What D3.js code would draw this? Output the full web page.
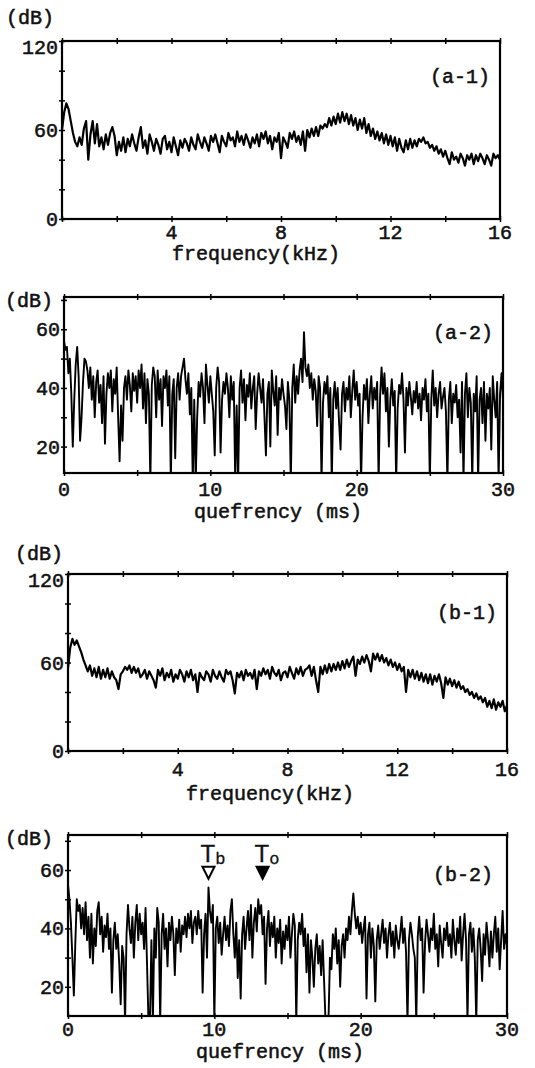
<!DOCTYPE html>
<html>
<head>
<meta charset="utf-8">
<script src="https://cdn.jsdelivr.net/npm/d3@7"></script>
<style>
  body { margin: 0; background: #fff; }
  text { font-family: "Liberation Mono", "DejaVu Sans Mono", monospace; font-size: 20px; fill: #111; stroke: #111; stroke-width: 0.55px; }
</style>
</head>
<body>
<div id="chart"></div>
<script>
// (a-1) spectrum, dB, evenly spaced from 0 to 16 kHz
var spectrumA = [
  60, 72, 78, 74, 66, 58, 52, 49, 55, 50,
  61, 66, 40, 57, 66, 51, 64, 49, 55, 47,
  57, 50, 58, 62, 56, 43, 52, 46, 55, 45,
  54, 49, 57, 51, 46, 55, 62, 48, 53, 44,
  57, 52, 46, 54, 50, 44, 54, 56, 47, 52,
  45, 55, 49, 43, 53, 48, 54, 51, 46, 55,
  50, 47, 57, 52, 48, 55, 51, 46, 56, 52,
  57, 51, 45, 56, 52, 49, 58, 53, 55, 49,
  59, 52, 56, 50, 57, 53, 48, 55, 51, 57,
  49, 58, 54, 59, 51, 56, 47, 55, 52, 58,
  41, 55, 52, 48, 58, 54, 59, 52, 56, 50,
  59, 46, 60, 55, 61, 56, 62, 56, 63, 61,
  64, 62, 68, 63, 69, 64, 71, 65, 72, 66,
  71, 64, 70, 63, 68, 60, 67, 61, 68, 58,
  64, 56, 61, 54, 59, 53, 58, 51, 57, 50,
  56, 49, 55, 46, 54, 48, 45, 53, 47, 54,
  48, 53, 49, 54, 52, 55, 51, 52, 48, 50,
  46, 49, 44, 47, 42, 46, 41, 37, 45, 40,
  42, 38, 44, 41, 36, 43, 40, 44, 37, 43,
  39, 44, 41, 37, 43, 40, 36, 44, 41, 43,
  40
];

// (a-2) cepstrum, dB, evenly spaced from 0 to 30 ms
var cepstrumA = [
  56, 53, 54, 45, 50, 38, 20, 36, 48, 54,
  44, 22, 30, 42, 50, 49, 46, 40, 47, 36,
  44, 30, 42, 46, 35, 41, 28, 44, 21, 38,
  45, 40, 46, 32, 43, 38, 47, 30, 15, 34,
  22, 40, 44, 36, 46, 41, 32, 45, 39, 44,
  35, 46, 40, 48, 33, 45, 28, 43, 38, 8,
  41, 47, 44, 30, 46, 36, 43, 27, 44, 40,
  46, 34, 44, 8, 38, 43, 16, 40, 45, 36,
  44, 47, 50, 43, 38, 45, 31, 40, 8, 36,
  8, 30, 42, 37, 45, 40, 28, 48, 41, 35,
  44, 38, 32, 17, 40, 47, 42, 18, 36, 42,
  38, 45, 40, 30, 44, 36, 42, 8, 34, 8,
  40, 46, 35, 43, 29, 41, 37, 45, 33, 40,
  44, 26, 38, 45, 40, 35, 43, 30, 17, 38,
  42, 20, 46, 39, 34, 44, 24, 40, 36, 43,
  38, 34, 26, 42, 36, 8, 40, 48, 35, 44,
  38, 46, 50, 42, 59, 47, 44, 48, 40, 45,
  36, 43, 39, 27, 44, 40, 8, 35, 42, 38,
  44, 30, 40, 8, 36, 42, 33, 40, 28, 19,
  38, 42, 32, 40, 36, 44, 30, 39, 46, 36,
  42, 34, 38, 8, 30, 41, 36, 43, 28, 38,
  44, 33, 40, 36, 42, 8, 37, 47, 38, 45,
  32, 40, 20, 36, 43, 34, 39, 8, 33, 41,
  38, 45, 36, 18, 40, 34, 42, 37, 31, 39,
  35, 42, 33, 38, 29, 40, 36, 43, 32, 38,
  8, 36, 46, 34, 40, 30, 38, 42, 33, 37,
  40, 32, 8, 36, 42, 28, 38, 35, 41, 30,
  36, 18, 42, 8, 38, 45, 30, 40, 35, 8,
  38, 32, 44, 8, 36, 40, 28, 42, 22, 38,
  33, 40, 19, 44, 36, 30, 42, 8, 38, 45,
  36
];

// (b-1) spectrum, dB, 0 to 16 kHz
var spectrumB = [
  56, 70, 76, 72, 75, 71, 67, 62, 58, 54,
  58, 51, 56, 50, 57, 49, 55, 50, 56, 49,
  54, 50, 48, 42, 52, 54, 57, 55, 58, 53,
  57, 53, 56, 50, 52, 55, 49, 54, 51, 48,
  43, 55, 51, 56, 48, 53, 50, 55, 47, 52,
  49, 55, 52, 47, 54, 50, 55, 48, 52, 40,
  53, 50, 48, 54, 52, 47, 55, 51, 49, 54,
  50, 47, 55, 52, 54, 48, 39, 53, 50, 54,
  48, 55, 51, 53, 49, 55, 42, 54, 51, 56,
  52, 55, 49, 57, 53, 51, 55, 48, 53, 54,
  50, 57, 53, 49, 56, 52, 57, 51, 55, 56,
  58, 51, 57, 48, 40, 57, 52, 58, 53, 59,
  54, 59, 55, 60, 55, 61, 56, 62, 57, 61,
  64, 51, 62, 59, 64, 60, 65, 61, 54, 66,
  62, 66, 61, 65, 60, 63, 58, 62, 57, 60,
  55, 59, 54, 57, 40, 55, 50, 55, 49, 54,
  48, 53, 47, 52, 46, 52, 45, 51, 47, 52,
  46, 36, 50, 45, 49, 44, 48, 43, 47, 42,
  44, 40, 42, 38, 40, 36, 39, 35, 37, 33,
  36, 30, 34, 29, 35, 28, 33, 30, 34, 27,
  31
];

// (b-2) cepstrum, dB, 0 to 30 ms
var cepstrumB = [
  55, 50, 42, 30, 17, 35, 50, 46, 48, 40,
  47, 38, 49, 36, 44, 30, 45, 28, 40, 34,
  46, 49, 38, 44, 32, 41, 37, 45, 33, 40,
  18, 36, 42, 33, 38, 28, 14, 34, 30, 8,
  38, 48, 40, 35, 44, 30, 42, 48, 36, 45,
  38, 42, 33, 47, 28, 8, 8, 36, 8, 40,
  30, 47, 42, 8, 38, 45, 33, 40, 27, 42,
  36, 44, 38, 24, 40, 35, 43, 32, 41, 38,
  44, 37, 45, 40, 46, 35, 42, 44, 38, 46,
  40, 43, 18, 38, 45, 30, 54, 46, 42, 48,
  8, 40, 44, 35, 42, 31, 38, 44, 36, 41,
  34, 46, 50, 38, 30, 42, 23, 36, 16, 38,
  44, 33, 40, 46, 36, 48, 30, 42, 47, 39,
  50, 45, 48, 38, 44, 21, 40, 46, 34, 42,
  37, 44, 30, 40, 35, 43, 28, 39, 33, 41,
  36, 44, 30, 38, 45, 41, 8, 36, 42, 38,
  45, 34, 40, 25, 38, 18, 36, 30, 20, 33,
  38, 28, 34, 24, 36, 22, 8, 8, 8, 30,
  26, 38, 33, 40, 28, 36, 20, 34, 38, 30,
  40, 36, 44, 38, 46, 52, 45, 40, 44, 38,
  42, 35, 40, 44, 16, 38, 42, 30, 40, 34,
  15, 36, 41, 33, 38, 43, 35, 40, 30, 38,
  42, 34, 39, 30, 41, 36, 33, 38, 44, 35,
  40, 32, 8, 36, 42, 38, 33, 30, 8, 37,
  44, 36, 40, 18, 35, 43, 38, 32, 40, 36,
  45, 33, 38, 27, 41, 35, 30, 40, 36, 42,
  34, 38, 30, 43, 36, 31, 40, 35, 44, 29,
  38, 45, 36, 8, 38, 42, 32, 40, 30, 8,
  36, 40, 33, 22, 38, 31, 42, 36, 27, 39,
  30, 38, 44, 32, 40, 26, 36, 46, 33, 38,
  34
];

// tick marks and tick labels
var freqTicks = [0, 2, 4, 6, 8, 10, 12, 14, 16];
var freqLabels = [4, 8, 12, 16];
var specDbTicks = [0, 20, 40, 60, 80, 100, 120];
var specDbLabels = [0, 60, 120];
var queTicks = [0, 5, 10, 15, 20, 25, 30];
var queLabels = [0, 10, 20, 30];
var cepDbTicks = [20, 30, 40, 50, 60, 70];
var cepDbLabels = [20, 40, 60];

// T markers in (b-2)
var markerSubs = ["b", "o"];
var markerTimes = [9.6, 13.3];
var markerHollow = [true, false];
var markerLevel = 57;

var panels = [
  { name: "(a-1)", values: spectrumA, xMax: 16, yDomain: [0, 120],
    xTicks: freqTicks, xLabels: freqLabels, yTicks: specDbTicks, yLabels: specDbLabels,
    title: "frequency(kHz)", lineWidth: 2.2,
    left: 62, right: 500, top: 41, bottom: 219,
    dbPos: [6, 17], xLabelY: 232, titlePos: [256, 253], namePos: [490, 76] },
  { name: "(a-2)", values: cepstrumA, xMax: 30, yDomain: [11, 71],
    xTicks: queTicks, xLabels: queLabels, yTicks: cepDbTicks, yLabels: cepDbLabels,
    title: "quefrency (ms)", lineWidth: 1.9,
    left: 64, right: 503, top: 297, bottom: 473,
    dbPos: [5, 300], xLabelY: 489, titlePos: [278, 511], namePos: [493, 332] },
  { name: "(b-1)", values: spectrumB, xMax: 16, yDomain: [0, 120],
    xTicks: freqTicks, xLabels: freqLabels, yTicks: specDbTicks, yLabels: specDbLabels,
    title: "frequency(kHz)", lineWidth: 2.2,
    left: 68, right: 507, top: 574, bottom: 751,
    dbPos: [15, 553], xLabelY: 769, titlePos: [270, 793], namePos: [497, 612] },
  { name: "(b-2)", values: cepstrumB, xMax: 30, yDomain: [10, 72],
    xTicks: queTicks, xLabels: queLabels, yTicks: cepDbTicks, yLabels: cepDbLabels,
    title: "quefrency (ms)", lineWidth: 1.9,
    left: 68, right: 507, top: 835, bottom: 1016,
    dbPos: [5, 838], xLabelY: 1029, titlePos: [280, 1051], namePos: [493, 874],
    markers: true }
];

var svg = d3.select("#chart").append("svg")
    .attr("width", 535)
    .attr("height", 1068)
    .style("background", "#fff");

panels.forEach(function (p, k) {
    var step = p.xMax / (p.values.length - 1);
    var x = d3.scaleLinear().domain([0, p.xMax]).range([p.left, p.right]);
    var y = d3.scaleLinear().domain(p.yDomain).range([p.bottom, p.top]);

    svg.append("clipPath").attr("id", "clip" + k)
        .append("rect")
        .attr("x", p.left).attr("y", p.top)
        .attr("width", p.right - p.left).attr("height", p.bottom - p.top);

    var line = d3.line()
        .x((d, i) => x(i * step))
        .y(d => y(d));

    svg.append("path")
        .datum(p.values)
        .attr("d", line)
        .attr("clip-path", "url(#clip" + k + ")")
        .attr("fill", "none")
        .attr("stroke", "#000")
        .attr("stroke-width", p.lineWidth)
        .attr("stroke-linejoin", "round");

    // frame
    svg.append("rect")
        .attr("x", p.left).attr("y", p.top)
        .attr("width", p.right - p.left).attr("height", p.bottom - p.top)
        .attr("fill", "none")
        .attr("stroke", "#000")
        .attr("stroke-width", 2.2);

    // small tick marks crossing the frame
    var noDomain = g => g.select(".domain").remove();
    svg.append("g")
        .attr("transform", `translate(0, ${p.bottom - 3})`)
        .call(d3.axisBottom(x).tickValues(p.xTicks).tickSize(6).tickFormat(""))
        .call(noDomain);
    svg.append("g")
        .attr("transform", `translate(0, ${p.top - 3})`)
        .call(d3.axisBottom(x).tickValues(p.xTicks).tickSize(6).tickFormat(""))
        .call(noDomain);
    svg.append("g")
        .attr("transform", `translate(${p.left - 3}, 0)`)
        .call(d3.axisRight(y).tickValues(p.yTicks).tickSize(6).tickFormat(""))
        .call(noDomain);
    svg.selectAll(".tick line").attr("stroke", "#000").attr("stroke-width", 1.5);

    // labels
    p.yLabels.forEach(function (v) {
        svg.append("text")
            .attr("x", p.left - 4)
            .attr("y", Math.max(y(v), p.top + 6))
            .attr("dy", "0.35em")
            .attr("text-anchor", "end")
            .text(v);
    });
    p.xLabels.forEach(function (v) {
        svg.append("text")
            .attr("x", x(v))
            .attr("y", p.xLabelY)
            .attr("dy", "0.35em")
            .attr("text-anchor", "middle")
            .text(v);
    });

    svg.append("text")
        .attr("x", p.dbPos[0]).attr("y", p.dbPos[1])
        .attr("dy", "0.35em")
        .text("(dB)");

    svg.append("text")
        .attr("x", p.titlePos[0]).attr("y", p.titlePos[1])
        .attr("dy", "0.35em")
        .attr("text-anchor", "middle")
        .text(p.title);

    svg.append("text")
        .attr("x", p.namePos[0]).attr("y", p.namePos[1])
        .attr("dy", "0.35em")
        .attr("text-anchor", "end")
        .text(p.name);

    if (p.markers) {
        markerTimes.forEach(function (t, j) {
            var mx = x(t), my = y(markerLevel);
            svg.append("path")
                .attr("d", `M${mx - 6},${my - 12}L${mx + 6},${my - 12}L${mx},${my}Z`)
                .attr("fill", markerHollow[j] ? "#fff" : "#000")
                .attr("stroke", "#000")
                .attr("stroke-width", 2);
            var lab = svg.append("text")
                .attr("x", mx - 8)
                .attr("y", my - 17)
                .style("font-family", "'Liberation Sans', Arial, sans-serif")
                .style("font-size", "24px")
                .style("stroke-width", "0.3px");
            lab.append("tspan").text("T");
            lab.append("tspan").attr("dy", 2).style("font-size", "17px")
                .style("font-family", "'Liberation Mono', monospace").text(markerSubs[j]);
        });
    }
});
</script>
</body>
</html>
